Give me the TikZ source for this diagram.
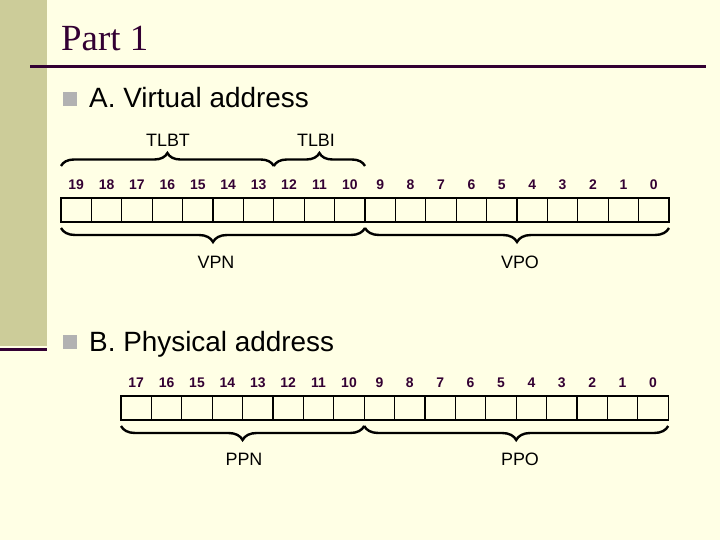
\documentclass[tikz,border=0pt]{standalone}
\usepackage{fontspec}
\setmainfont{Liberation Serif}
\setsansfont{Liberation Sans}
\usetikzlibrary{decorations.pathreplacing}
\definecolor{slidebg}{RGB}{255,255,229}
\definecolor{sidebar}{RGB}{204,204,153}
\definecolor{darkline}{RGB}{51,0,51}
\definecolor{bulletgray}{RGB}{178,178,178}
\tikzset{
  bitlabel/.style={font=\sffamily\bfseries\fontsize{14}{14}\selectfont, text=darkline, inner sep=0pt},
  cell/.style={draw=black, line width=1.1bp},
  fieldlabel/.style={font=\sffamily\fontsize{18}{18}\selectfont, inner sep=0pt},
  headline/.style={font=\sffamily\fontsize{28}{28}\selectfont, anchor=base west, inner sep=0pt},
  upbrace/.style={draw=black, line width=2.4bp, decorate, decoration={brace, amplitude=13bp}},
  downbrace/.style={draw=black, line width=2.4bp, decorate, decoration={brace, mirror, amplitude=14bp}}
}
\begin{document}
\begin{tikzpicture}[x=1bp, y=-1bp]
  \def\cw{30.4}  % cell width
  \def\ch{24}    % cell height
  \def\vx{61}    % left of virtual address
  \def\vy{198}   % top of virtual address
  \def\px{121}   % left of physical address
  \def\py{396}   % top of physical address
  \fill[slidebg] (0,0) rectangle (720,540);
  \useasboundingbox (0,0) rectangle (720,540);
  % slide frame
  \fill[sidebar] (0,0) rectangle (47,346);
  \draw[darkline, line width=3bp] (0,349) -- (47,349);
  \draw[darkline, line width=3bp] (30,67) -- (706,67);
  \node[anchor=base west, inner sep=0pt, text=darkline, font=\fontsize{37}{37}\selectfont] (title) at (61,51) {Part 1};
  % A. virtual address
  \fill[bulletgray] (63,92) rectangle (77,106);
  \node[headline] (virt) at (89,108) {A. Virtual address};
  \foreach \i in {0,...,19}{
    \pgfmathtruncatemacro\bit{19-\i}
    \draw[cell] ({\vx+\i*\cw},\vy) rectangle ++(\cw,\ch);
    \node[bitlabel] (vbit\bit) at ({\vx+(\i+0.5)*\cw},185) {\bit};
  }
  \coordinate (tlbtL) at (\vx,166);
  \coordinate (tlbtR) at ({\vx+7*\cw},166);
  \coordinate (tlbiR) at ({\vx+10*\cw},166);
  \coordinate (vpnL) at (\vx,228);
  \coordinate (vpnR) at ({\vx+10*\cw},228);
  \coordinate (vpoR) at ({\vx+20*\cw},228);
  \draw[upbrace] (tlbtL) -- (tlbtR);
  \draw[upbrace] (tlbtR) -- (tlbiR);
  \draw[downbrace] (vpnL) -- (vpnR);
  \draw[downbrace] (vpnR) -- (vpoR);
  \node[fieldlabel] (tlbt) at (168,140) {TLBT};
  \node[fieldlabel] (tlbi) at (316,140) {TLBI};
  \node[fieldlabel] (vpn) at (216,262) {VPN};
  \node[fieldlabel] (vpo) at (520,262) {VPO};
  % B. physical address
  \fill[bulletgray] (63,335) rectangle (77,349);
  \node[headline] (phys) at (89,351) {B. Physical address};
  \foreach \i in {0,...,17}{
    \pgfmathtruncatemacro\bit{17-\i}
    \draw[cell] ({\px+\i*\cw},\py) rectangle ++(\cw,\ch);
    \node[bitlabel] (pbit\bit) at ({\px+(\i+0.5)*\cw},383) {\bit};
  }
  \coordinate (ppnL) at (\px,426);
  \coordinate (ppnR) at ({\px+8*\cw},426);
  \coordinate (ppoR) at ({\px+18*\cw},426);
  \draw[downbrace] (ppnL) -- (ppnR);
  \draw[downbrace] (ppnR) -- (ppoR);
  \node[fieldlabel] (ppn) at (244,459) {PPN};
  \node[fieldlabel] (ppo) at (520,459) {PPO};
\end{tikzpicture}
\end{document}
